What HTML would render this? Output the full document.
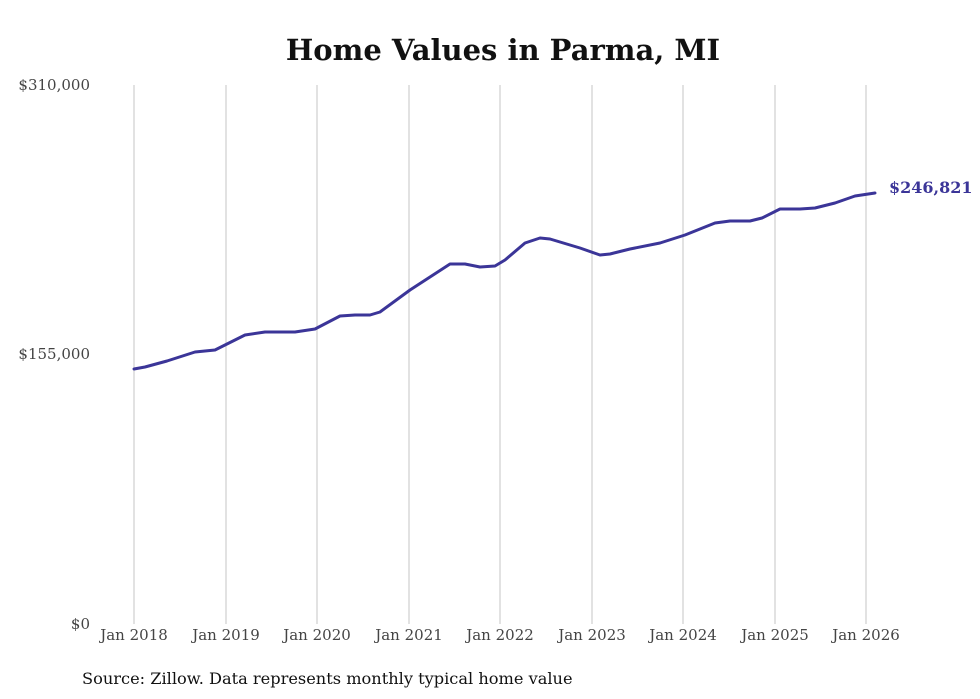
<!DOCTYPE html>
<html><head><meta charset="utf-8"><style>
html,body{margin:0;padding:0;background:#fff;}
svg{display:block;font-family:"DejaVu Serif","Liberation Serif",serif;}
</style></head><body>
<svg width="980" height="699" viewBox="0 0 980 699">
<text x="503" y="60" text-anchor="middle" font-size="29" font-weight="bold" fill="#111">Home Values in Parma, MI</text>
<g stroke="#c4c4c4" stroke-width="1">
<line x1="134" y1="85" x2="134" y2="624"/>
<line x1="226" y1="85" x2="226" y2="624"/>
<line x1="317" y1="85" x2="317" y2="624"/>
<line x1="409" y1="85" x2="409" y2="624"/>
<line x1="500" y1="85" x2="500" y2="624"/>
<line x1="592" y1="85" x2="592" y2="624"/>
<line x1="683" y1="85" x2="683" y2="624"/>
<line x1="775" y1="85" x2="775" y2="624"/>
<line x1="866" y1="85" x2="866" y2="624"/>
</g>
<g font-size="15" fill="#444" text-anchor="end">
<text x="90" y="90">$310,000</text>
<text x="90" y="359">$155,000</text>
<text x="90" y="629">$0</text>
</g>
<g font-size="15" fill="#444" text-anchor="middle">
<text x="134" y="640">Jan 2018</text>
<text x="226" y="640">Jan 2019</text>
<text x="317" y="640">Jan 2020</text>
<text x="409" y="640">Jan 2021</text>
<text x="500" y="640">Jan 2022</text>
<text x="592" y="640">Jan 2023</text>
<text x="683" y="640">Jan 2024</text>
<text x="775" y="640">Jan 2025</text>
<text x="866" y="640">Jan 2026</text>
</g>
<polyline fill="none" stroke="#3b3598" stroke-width="3" stroke-linejoin="round" stroke-linecap="round"
points="134,369 145,367 167,361 195,352 215,350 245,335 265,332 295,332 315,329 340,316 355,315 370,315 380,312 410,290 450,264 465,264 480,267 495,266 505,260 525,243 540,238 550,239 560,242 580,248 600,255 610,254 630,249 660,243 685,235 715,223 730,221 750,221 762,218 780,209 800,209 815,208 835,203 855,196 875,193"/>
<text x="889" y="193" font-size="16" font-weight="bold" fill="#3b3598">$246,821</text>
<text x="82" y="684" font-size="16.2" fill="#111">Source: Zillow. Data represents monthly typical home value</text>
</svg>
</body></html>
